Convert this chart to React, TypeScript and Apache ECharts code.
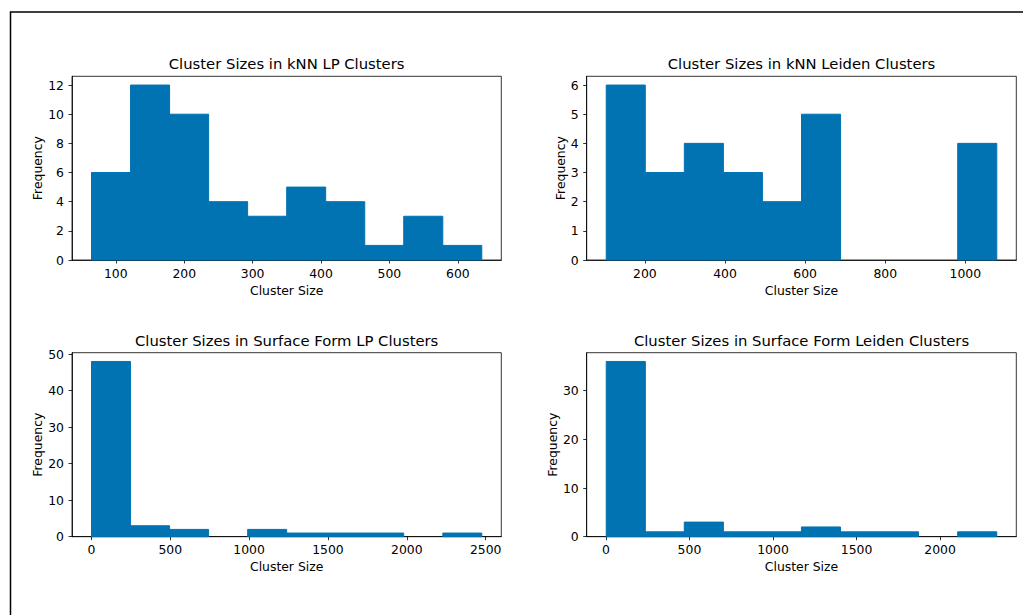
import React, { useEffect, useRef } from "react";
import * as echarts from "echarts";

// ---- Data ----
const knnLpEdges = [64.5, 121.6, 178.6, 235.7, 292.7, 349.8, 406.8, 463.9, 520.9, 578.0, 635.0];
const knnLpCounts = [6, 12, 10, 4, 3, 5, 4, 1, 3, 1];
const knnLpXTicks = [100, 200, 300, 400, 500, 600];
const knnLpYTicks = [0, 2, 4, 6, 8, 10, 12];

const knnLeidenEdges = [103.5, 201, 298.5, 396, 493.5, 591, 688.5, 786, 883.5, 981, 1078.5];
const knnLeidenCounts = [6, 3, 4, 3, 2, 5, 0, 0, 0, 4];
const knnLeidenXTicks = [200, 400, 600, 800, 1000];
const knnLeidenYTicks = [0, 1, 2, 3, 4, 5, 6];

const sfLpEdges = [1, 248, 496, 743, 991, 1238, 1485, 1733, 1980, 2228, 2475];
const sfLpCounts = [48, 3, 2, 0, 2, 1, 1, 1, 0, 1];
const sfLpXTicks = [0, 500, 1000, 1500, 2000, 2500];
const sfLpYTicks = [0, 10, 20, 30, 40, 50];

const sfLeidenEdges = [2, 236, 469, 703, 937, 1170, 1404, 1638, 1871, 2105, 2339];
const sfLeidenCounts = [36, 1, 3, 1, 1, 2, 1, 1, 0, 1];
const sfLeidenXTicks = [0, 500, 1000, 1500, 2000];
const sfLeidenYTicks = [0, 10, 20, 30];

const titles = [
  "Cluster Sizes in kNN LP Clusters",
  "Cluster Sizes in kNN Leiden Clusters",
  "Cluster Sizes in Surface Form LP Clusters",
  "Cluster Sizes in Surface Form Leiden Clusters",
];

const FONT = "DejaVu Sans";
const BAR = "#0173B2";

const panels = [
  { edges: knnLpEdges, counts: knnLpCounts, xt: knnLpXTicks, yt: knnLpYTicks, left: 72, top: 76.3, width: 429.3, height: 183.7, yGap: 29 },
  { edges: knnLeidenEdges, counts: knnLeidenCounts, xt: knnLeidenXTicks, yt: knnLeidenYTicks, left: 586.7, top: 76.3, width: 429.6, height: 183.7, yGap: 20.5 },
  { edges: sfLpEdges, counts: sfLpCounts, xt: sfLpXTicks, yt: sfLpYTicks, left: 72, top: 352.7, width: 429.3, height: 184, yGap: 29 },
  { edges: sfLeidenEdges, counts: sfLeidenCounts, xt: sfLeidenXTicks, yt: sfLeidenYTicks, left: 586.7, top: 352.7, width: 429.6, height: 184, yGap: 28 },
];

export default function App() {
  const ref = useRef<HTMLDivElement>(null);
  useEffect(() => {
    if (!ref.current) return;
    const chart = echarts.init(ref.current, undefined, { renderer: "svg" });

    const grid: any[] = [];
    const xAxis: any[] = [];
    const yAxis: any[] = [];
    const series: any[] = [];
    const graphic: any[] = [];

    panels.forEach((p, i) => {
      const lo = p.edges[0];
      const hi = p.edges[p.edges.length - 1];
      const pad = (hi - lo) * 0.05;
      const ymax = Math.max(...p.counts) * 1.05;
      grid.push({
        left: p.left,
        top: p.top,
        width: p.width,
        height: p.height,
        show: true,
        borderColor: "#000",
        borderWidth: 0.8,
        backgroundColor: "transparent",
      });
      const common = {
        axisLine: { show: true, onZero: false, lineStyle: { color: "#000", width: 0.8 } },
        axisTick: { show: true, inside: false, length: 3.5, lineStyle: { color: "#000", width: 0.8 } },
        splitLine: { show: false },
        nameTextStyle: { fontFamily: FONT, fontSize: 12.4, color: "#000" },
      };
      xAxis.push({
        ...common,
        type: "value",
        gridIndex: i,
        min: lo - pad,
        max: hi + pad,
        name: "Cluster Size",
        nameLocation: "middle",
        nameGap: 24,
        axisTick: { ...common.axisTick, customValues: p.xt },
        axisLabel: {
          customValues: p.xt,
          formatter: (v: number) => String(v),
          fontFamily: FONT,
          fontSize: 12.4,
          color: "#000",
          margin: 7,
          showMinLabel: true,
          showMaxLabel: true,
        },
      });
      yAxis.push({
        ...common,
        type: "value",
        gridIndex: i,
        min: 0,
        max: ymax,
        name: "Frequency",
        nameLocation: "middle",
        nameGap: p.yGap,
        axisTick: { ...common.axisTick, customValues: p.yt },
        axisLabel: {
          customValues: p.yt,
          formatter: (v: number) => String(v),
          fontFamily: FONT,
          fontSize: 12.4,
          color: "#000",
          margin: 8,
          showMinLabel: true,
          showMaxLabel: true,
        },
      });
      const data = p.counts.map((c, k) => [p.edges[k], p.edges[k + 1], c]);
      series.push({
        type: "custom",
        xAxisIndex: i,
        yAxisIndex: i,
        data,
        encode: { x: [0, 1], y: 2 },
        renderItem: (params: any, api: any) => {
          const x0 = api.value(0);
          const x1 = api.value(1);
          const y = api.value(2);
          if (!y) return null;
          const a = api.coord([x0, y]);
          const b = api.coord([x1, 0]);
          return {
            type: "rect",
            shape: { x: a[0], y: a[1], width: b[0] - a[0], height: b[1] - a[1] },
            style: { fill: BAR, stroke: BAR, lineWidth: 1 },
          };
        },
      });
      graphic.push({
        type: "text",
        x: p.left + p.width / 2,
        y: p.top - 12.5,
        style: {
          text: titles[i],
          fontFamily: FONT,
          fontSize: 14.8,
          fill: "#000",
          align: "center",
          verticalAlign: "middle",
        },
      });
    });

    graphic.push({
      type: "rect",
      shape: { x: 10.5, y: 12, width: 1200, height: 800 },
      style: { fill: "none", stroke: "#000", lineWidth: 1.5 },
      silent: true,
    });

    chart.setOption({
      animation: false,
      backgroundColor: "#fff",
      grid,
      xAxis,
      yAxis,
      series,
      graphic,
    });
    return () => chart.dispose();
  }, []);

  return (
    <div
      ref={ref}
      style={{ position: "fixed", left: 0, top: 0, width: 1023, height: 615 }}
    />
  );
}
